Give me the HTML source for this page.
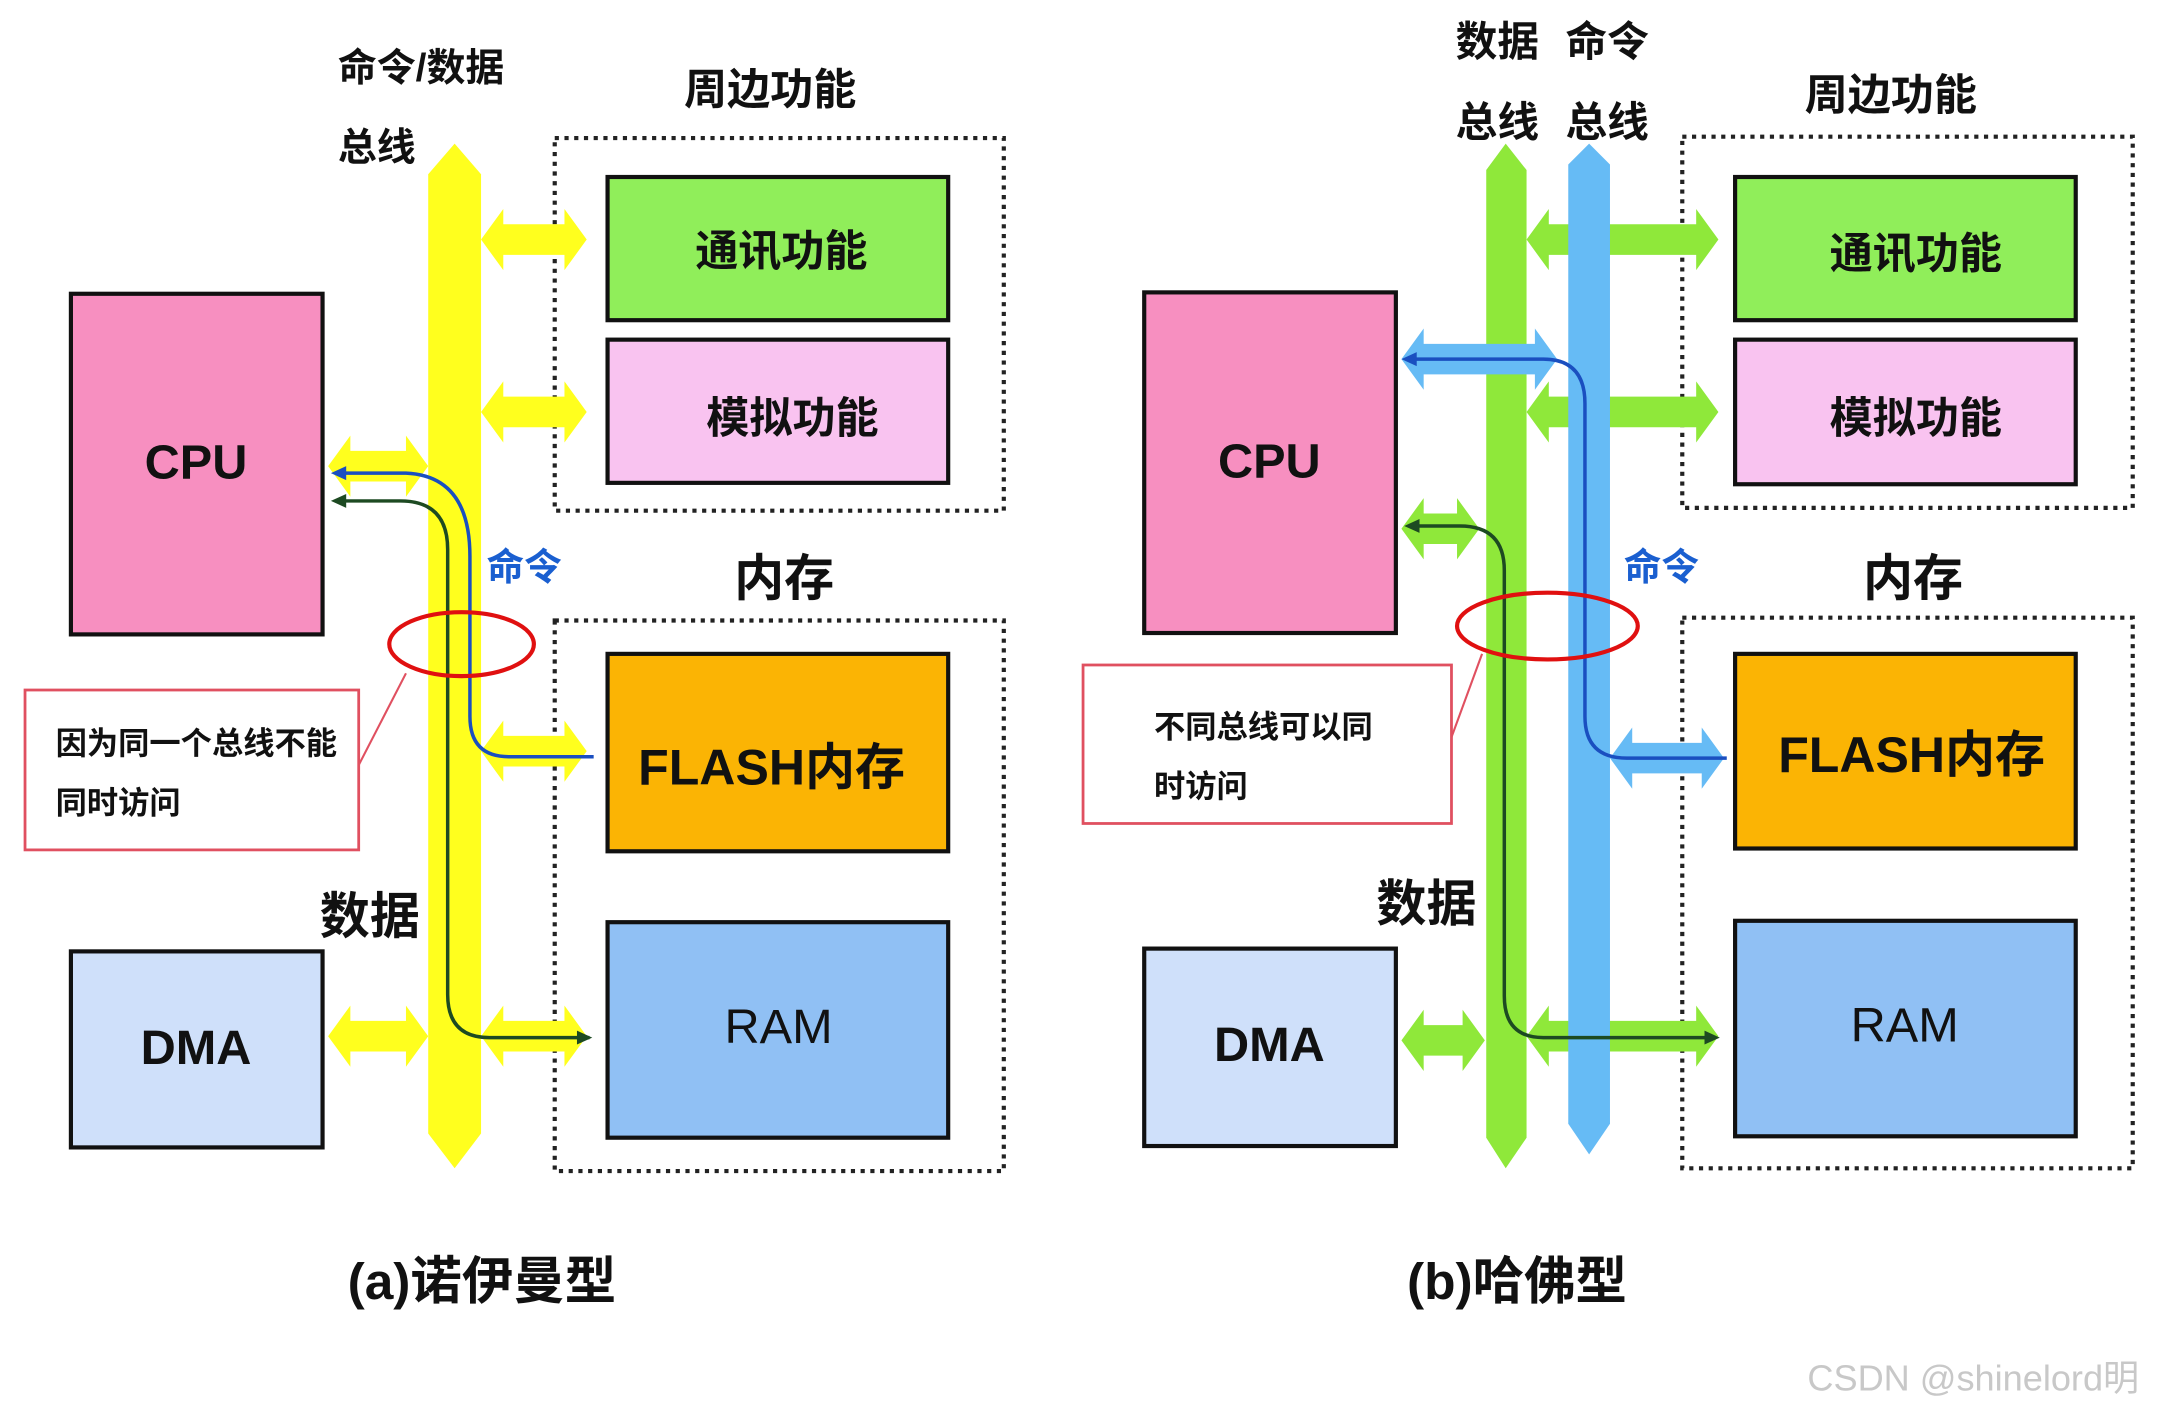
<!DOCTYPE html>
<html><head><meta charset="utf-8"><style>
html,body{margin:0;padding:0;background:#fff;}
svg{display:block;}
text{font-family:"Liberation Sans","Noto Sans CJK SC",sans-serif;font-weight:700;fill:#111;}
</style></head><body>
<svg width="2180" height="1412" viewBox="0 0 1568 1015" xmlns="http://www.w3.org/2000/svg">
<rect width="1568" height="1015" fill="#fff"/>

<!-- ===== LEFT (a) ===== -->
<g fill="none" stroke="#222" stroke-width="3" stroke-dasharray="3,4">
<rect x="399" y="99" width="323" height="268"/>
<rect x="399" y="446" width="323" height="396"/>
</g>
<g stroke="#111" stroke-width="3">
<rect x="51" y="211" width="181" height="245" fill="#f78fc0"/>
<rect x="51" y="684" width="181" height="141" fill="#cfe0fa"/>
<rect x="437" y="127" width="245" height="103" fill="#90ee5a"/>
<rect x="437" y="244" width="245" height="103" fill="#f9c3f0"/>
<rect x="437" y="470" width="245" height="142" fill="#fbb404"/>
<rect x="437" y="663" width="245" height="155" fill="#90c0f4"/>
</g>
<g fill="#ffff1e">
<polygon points="346,172 362,150 362,161 406,161 406,150 422,172 406,194 406,183 362,183 362,194"/>
<polygon points="346,296 362,274 362,285 406,285 406,274 422,296 406,318 406,307 362,307 362,318"/>
<polygon points="346,540 362,518 362,529 406,529 406,518 422,540 406,562 406,551 362,551 362,562"/>
<polygon points="346,745 362,723 362,734 406,734 406,723 422,745 406,767 406,756 362,756 362,767"/>
<polygon points="236,335 252,313 252,324 292,324 292,313 308,335 292,357 292,346 252,346 252,357"/>
<polygon points="236,745 252,723 252,734 292,734 292,723 308,745 292,767 292,756 252,756 252,767"/>
<polygon points="327,103 346,125 346,815 327,840 308,815 308,125"/>
</g>
<path d="M427,544 H366 Q338,544 338,515 V400 Q338,342 292,340 H244" fill="none" stroke="#1a4fc0" stroke-width="2.5"/>
<path d="M424,746 H352 Q322,746 322,715 V395 Q322,360 288,360 H244" fill="none" stroke="#1d4a22" stroke-width="2.5"/>
<path d="M238,340 l11,-5 v10 z" fill="#1a4fc0"/>
<path d="M238,360 l11,-5 v10 z" fill="#1d4a22"/>
<path d="M426,746 l-11,-5 v10 z" fill="#1d4a22"/>
<ellipse cx="332" cy="463" rx="52" ry="23" fill="none" stroke="#e01010" stroke-width="3"/>
<line x1="292" y1="484" x2="258" y2="550" stroke="#e05060" stroke-width="1.5"/>
<rect x="18" y="496" width="240" height="115" fill="#fff" stroke="#e05060" stroke-width="2"/>
<text x="40" y="542" font-size="22.5">因为同一个总线不能</text>
<text x="40" y="585" font-size="22.5">同时访问</text>

<text x="243" y="58" font-size="28">命令/数据</text>
<text x="243" y="115" font-size="28">总线</text>
<text x="492" y="75" font-size="31">周边功能</text>
<text x="528" y="428" font-size="36">内存</text>
<text x="350" y="417" font-size="27" style="fill:#1a5fd0">命令</text>
<text x="230" y="671" font-size="36">数据</text>
<text x="141" y="344" font-size="35" text-anchor="middle">CPU</text>
<text x="141" y="765" font-size="35" text-anchor="middle">DMA</text>
<text x="562" y="191" font-size="31" text-anchor="middle">通讯功能</text>
<text x="570" y="311" font-size="31" text-anchor="middle">模拟功能</text>
<text x="555" y="564" font-size="36" text-anchor="middle">FLASH内存</text>
<text x="560" y="750" font-size="35" text-anchor="middle" style="font-weight:400">RAM</text>
<text x="250" y="934" font-size="37">(a)诺伊曼型</text>

<!-- ===== RIGHT (b) ===== -->
<g fill="none" stroke="#222" stroke-width="3" stroke-dasharray="3,4">
<rect x="1210" y="98" width="324" height="267"/>
<rect x="1210" y="444" width="324" height="396"/>
</g>
<g stroke="#111" stroke-width="3">
<rect x="823" y="210" width="181" height="245" fill="#f78fc0"/>
<rect x="823" y="682" width="181" height="142" fill="#cfe0fa"/>
<rect x="1248" y="127" width="245" height="103" fill="#90ee5a"/>
<rect x="1248" y="244" width="245" height="104" fill="#f9c3f0"/>
<rect x="1248" y="470" width="245" height="140" fill="#fbb404"/>
<rect x="1248" y="662" width="245" height="155" fill="#90c0f4"/>
</g>
<g fill="#8fe83a">
<polygon points="1098,172 1114,150 1114,161 1220,161 1220,150 1236,172 1220,194 1220,183 1114,183 1114,194"/>
<polygon points="1098,296 1114,274 1114,285 1220,285 1220,274 1236,296 1220,318 1220,307 1114,307 1114,318"/>
<polygon points="1098,745 1114,723 1114,734 1220,734 1220,723 1236,745 1220,767 1220,756 1114,756 1114,767"/>
<polygon points="1008,380 1024,358 1024,369 1048,369 1048,358 1064,380 1048,402 1048,391 1024,391 1024,402"/>
<polygon points="1008,748 1024,726 1024,737 1052,737 1052,726 1068,748 1052,770 1052,759 1024,759 1024,770"/>
<polygon points="1083,103 1098,122 1098,818 1083,840 1069,818 1069,122"/>
</g>
<g fill="#66bbf5">
<polygon points="1008,258 1024,236 1024,247 1104,247 1104,236 1120,258 1104,280 1104,269 1024,269 1024,280"/>
<polygon points="1158,545 1174,523 1174,534 1224,534 1224,523 1240,545 1224,567 1224,556 1174,556 1174,567"/>
<polygon points="1143,103 1158,118 1158,808 1143,830 1128,808 1128,118"/>
</g>
<path d="M1242,545 H1170 Q1140,545 1140,515 V290 Q1140,258 1110,258 H1014" fill="none" stroke="#1a4fc0" stroke-width="2.5"/>
<path d="M1232,746 H1110 Q1082,746 1082,716 V410 Q1082,378 1050,378 H1016" fill="none" stroke="#1d4a22" stroke-width="2.5"/>
<path d="M1008,258 l11,-5 v10 z" fill="#1a4fc0"/>
<path d="M1010,378 l11,-5 v10 z" fill="#1d4a22"/>
<path d="M1237,746 l-11,-5 v10 z" fill="#1d4a22"/>
<ellipse cx="1113" cy="450" rx="65" ry="24" fill="none" stroke="#e01010" stroke-width="3"/>
<line x1="1066" y1="470" x2="1044" y2="530" stroke="#e05060" stroke-width="1.5"/>
<rect x="779" y="478" width="265" height="114" fill="#fff" stroke="#e05060" stroke-width="2"/>
<text x="830" y="530" font-size="22.5">不同总线可以同</text>
<text x="830" y="573" font-size="22.5">时访问</text>

<text x="1047" y="40" font-size="30">数据</text>
<text x="1126" y="40" font-size="30">命令</text>
<text x="1047" y="98" font-size="30">总线</text>
<text x="1126" y="98" font-size="30">总线</text>
<text x="1298" y="79" font-size="31">周边功能</text>
<text x="1340" y="428" font-size="36">内存</text>
<text x="1168" y="417" font-size="27" style="fill:#1a5fd0">命令</text>
<text x="990" y="662" font-size="36">数据</text>
<text x="913" y="343" font-size="35" text-anchor="middle">CPU</text>
<text x="913" y="763" font-size="35" text-anchor="middle">DMA</text>
<text x="1378" y="193" font-size="31" text-anchor="middle">通讯功能</text>
<text x="1378" y="311" font-size="31" text-anchor="middle">模拟功能</text>
<text x="1375" y="555" font-size="36" text-anchor="middle">FLASH内存</text>
<text x="1370" y="749" font-size="35" text-anchor="middle" style="font-weight:400">RAM</text>
<text x="1012" y="934" font-size="37">(b)哈佛型</text>

<text x="1300" y="1000" font-size="26" style="font-weight:400;fill:#c8c8c8">CSDN @shinelord明</text>
</svg>
</body></html>
